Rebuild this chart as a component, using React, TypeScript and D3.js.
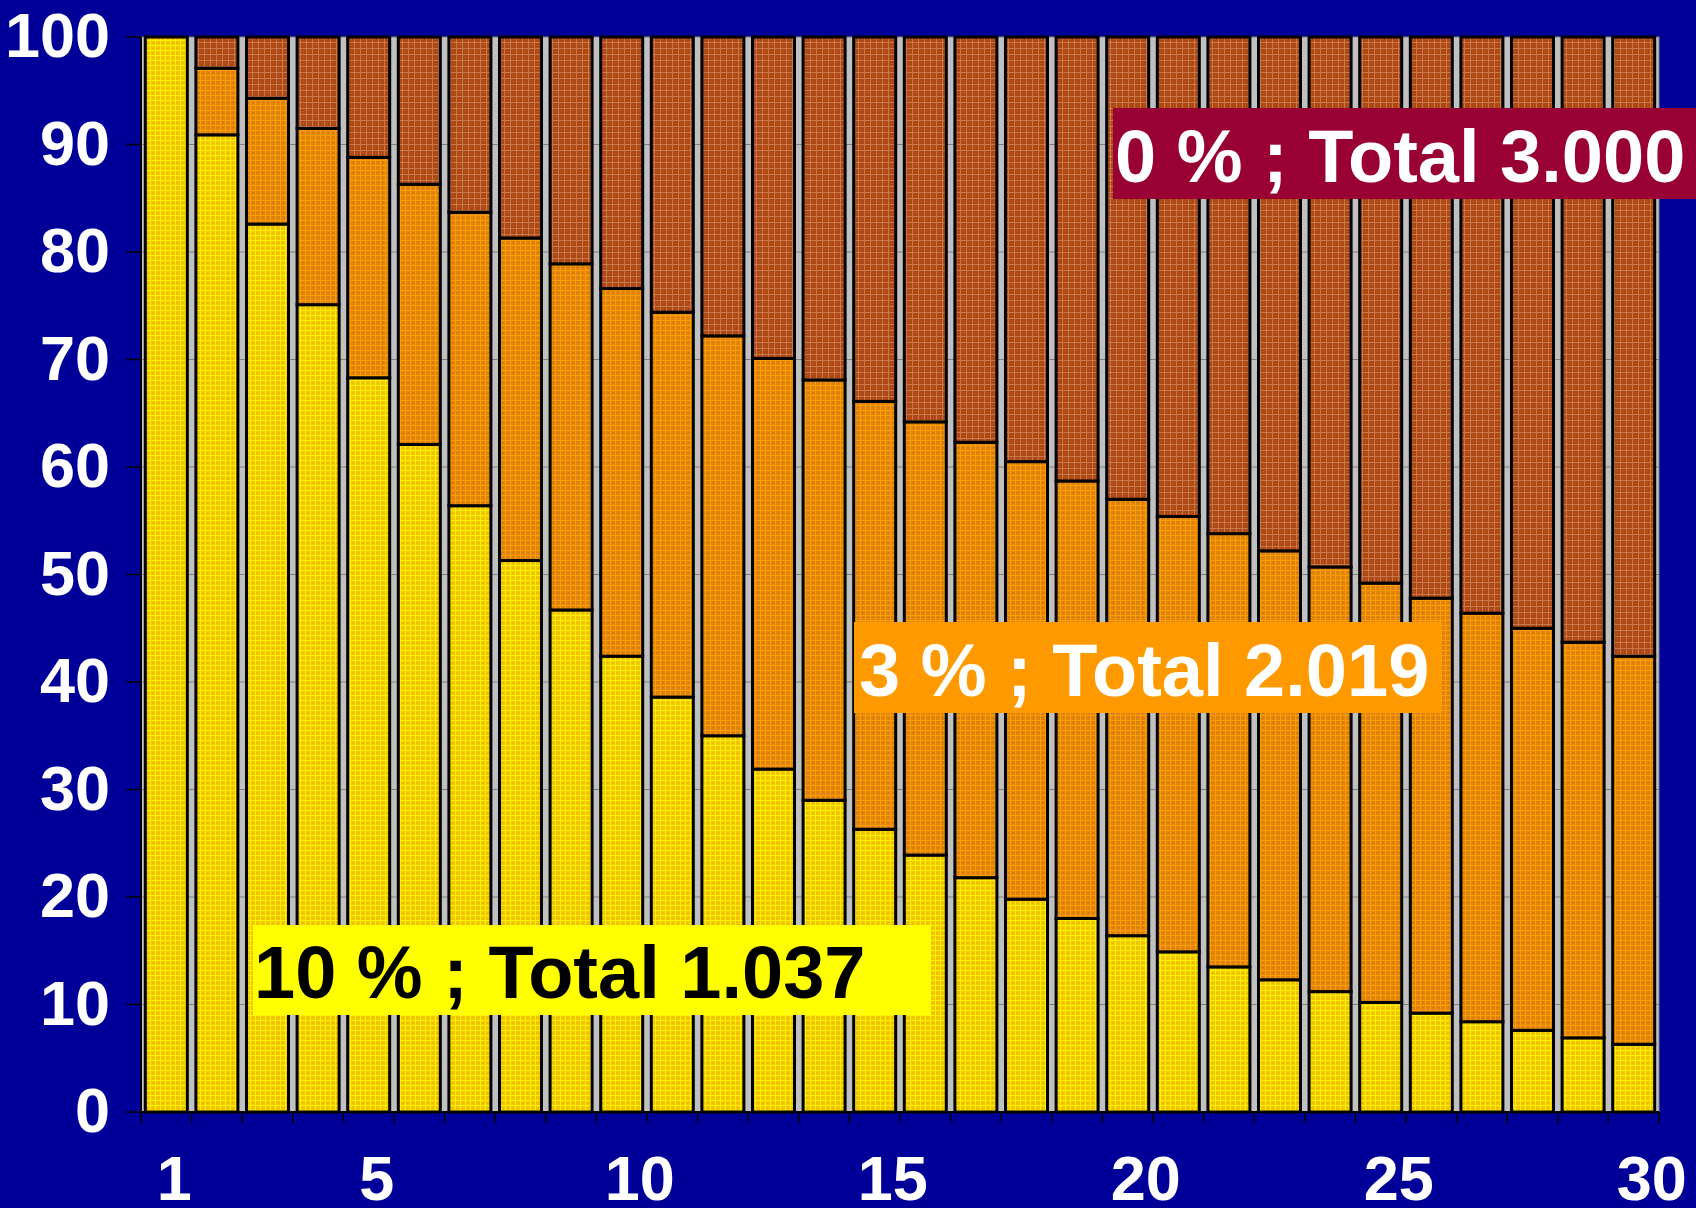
import React from "react";
import * as d3 from "d3";

// Years 1..30
const years: number[] = d3.range(1, 31);

// Cumulative top of the 10 % segment (%)
const tenPct: number[] = [
  100, 90.9, 82.6, 75.1, 68.3, 62.1, 56.4, 51.3, 46.7, 42.4,
  38.6, 35.0, 31.9, 29.0, 26.3, 23.9, 21.8, 19.8, 18.0, 16.4,
  14.9, 13.5, 12.3, 11.2, 10.2, 9.2, 8.4, 7.6, 6.9, 6.3,
];

// Cumulative top of the 3 % segment (%)
const threePct: number[] = [
  100, 97.1, 94.3, 91.5, 88.8, 86.3, 83.7, 81.3, 78.9, 76.6,
  74.4, 72.2, 70.1, 68.1, 66.1, 64.2, 62.3, 60.5, 58.7, 57.0,
  55.4, 53.8, 52.2, 50.7, 49.2, 47.8, 46.4, 45.0, 43.7, 42.4,
];

// Top of the 0 % segment
const zeroPct: number[] = years.map(() => 100);

const yTicks: number[] = [0, 10, 20, 30, 40, 50, 60, 70, 80, 90, 100];
const xTickLabels: number[] = [1, 5, 10, 15, 20, 25, 30];

const annotationTexts: string[] = [
  "0 % ; Total 3.000",
  "3 % ; Total 2.019",
  "10 % ; Total 1.037",
];

// layout / style
const W = 1696;
const H = 1208;
const plot = { left: 141, right: 1659, top: 37, bottom: 1112 };
const FONT = "'Liberation Sans', Arial, Helvetica, sans-serif";

const annotationLayout = [
  { x: 1113, y: 108, w: 583, h: 91, fill: "#990033", color: "#FFFFFF", tx: 1115, ty: 182 },
  { x: 854, y: 622, w: 588, h: 91, fill: "#FF9900", color: "#FFFFFF", tx: 859, ty: 696 },
  { x: 253, y: 925, w: 678, h: 90, fill: "#FFFF00", color: "#000000", tx: 254, ty: 998 },
];

export default function App() {
  const x = d3
    .scaleBand<number>()
    .domain(years)
    .range([plot.left, plot.right])
    .paddingInner(0.17)
    .paddingOuter(0.085);
  const y = d3.scaleLinear().domain([0, 100]).range([plot.bottom, plot.top]);
  const step = x.step();
  const boundaries = d3.range(0, years.length + 1).map((i) => plot.left + i * step);

  const segments: { key: string; y0: number; y1: number; x: number; fill: string }[] = [];
  years.forEach((yr, i) => {
    const bx = x(yr)!;
    const stack = [
      { key: "ten", y0: 0, y1: tenPct[i], fill: "url(#patYellow)" },
      { key: "three", y0: tenPct[i], y1: threePct[i], fill: "url(#patOrange)" },
      { key: "zero", y0: threePct[i], y1: zeroPct[i], fill: "url(#patBrown)" },
    ];
    stack.forEach((s) => {
      if (s.y1 - s.y0 > 0.01) segments.push({ ...s, key: `${s.key}-${yr}`, x: bx });
    });
  });

  return (
    <svg
      width={W}
      height={H}
      style={{ position: "absolute", left: 0, top: 0, display: "block" }}
      xmlns="http://www.w3.org/2000/svg"
    >
      <defs>
        <pattern id="patYellow" width="5" height="5" patternUnits="userSpaceOnUse">
          <rect width="5" height="5" fill="#F2C600" />
          <rect x="0" y="0" width="5" height="1" fill="#FFF200" />
          <rect x="0" y="0" width="1" height="5" fill="#FFF200" />
          <rect x="2" y="3" width="1" height="1" fill="#E8B800" />
        </pattern>
        <pattern id="patOrange" width="5" height="5" patternUnits="userSpaceOnUse">
          <rect width="5" height="5" fill="#E08410" />
          <rect x="0" y="0" width="5" height="1" fill="#FF9C00" />
          <rect x="0" y="0" width="1" height="5" fill="#FF9C00" />
          <rect x="3" y="2" width="1" height="1" fill="#D07810" />
        </pattern>
        <pattern id="patBrown" width="6" height="6" patternUnits="userSpaceOnUse">
          <rect width="6" height="6" fill="#AE4812" />
          <rect x="0" y="0" width="6" height="1" fill="#CA784E" />
          <rect x="0" y="0" width="1" height="6" fill="#CA784E" />
          <rect x="3" y="3" width="1" height="1" fill="#C06030" />
        </pattern>
      </defs>

      <rect x={0} y={0} width={W} height={H} fill="#000099" />

      {/* plot area */}
      <rect
        x={plot.left}
        y={plot.top}
        width={plot.right - plot.left}
        height={plot.bottom - plot.top}
        fill="#C0C0C0"
      />
      {yTicks
        .filter((t) => t > 0 && t < 100)
        .map((t) => (
          <line
            key={`g${t}`}
            x1={plot.left}
            x2={plot.right}
            y1={y(t)}
            y2={y(t)}
            stroke="#808080"
            strokeWidth={1}
          />
        ))}
      <rect
        x={plot.left}
        y={plot.top}
        width={plot.right - plot.left}
        height={plot.bottom - plot.top}
        fill="none"
        stroke="#808080"
        strokeWidth={1}
      />

      {/* bars */}
      {segments.map((s) => (
        <rect
          key={s.key}
          x={s.x}
          y={y(s.y1)}
          width={x.bandwidth()}
          height={y(s.y0) - y(s.y1)}
          fill={s.fill}
          stroke="#000000"
          strokeWidth={3}
        />
      ))}

      {/* axes */}
      <line x1={plot.left} x2={plot.left} y1={plot.top} y2={plot.bottom} stroke="#000" strokeWidth={2} />
      <line x1={plot.left} x2={plot.right} y1={plot.bottom} y2={plot.bottom} stroke="#000" strokeWidth={2} />
      {yTicks.map((t) => (
        <g key={`yt${t}`}>
          <line x1={plot.left - 15} x2={plot.left} y1={y(t)} y2={y(t)} stroke="#000" strokeWidth={1.5} />
          <text
            x={110}
            y={y(t) + 20}
            textAnchor="end"
            fill="#FFFFFF"
            fontFamily={FONT}
            fontWeight="bold"
            fontSize={63}
          >
            {t}
          </text>
        </g>
      ))}
      {boundaries.map((b, i) => (
        <line key={`xt${i}`} x1={b} x2={b} y1={plot.bottom} y2={plot.bottom + 11} stroke="#000" strokeWidth={1.5} />
      ))}
      {xTickLabels.map((v) => (
        <text
          key={`xl${v}`}
          x={x(v)! + x.bandwidth() / 2 + (String(v).length > 1 ? 18 : 8)}
          y={1200}
          textAnchor="middle"
          fill="#FFFFFF"
          fontFamily={FONT}
          fontWeight="bold"
          fontSize={63}
        >
          {v}
        </text>
      ))}

      {/* annotations */}
      {annotationTexts.map((t, i) => {
        const a = annotationLayout[i];
        return (
          <g key={`an${i}`}>
            <rect x={a.x} y={a.y} width={a.w} height={a.h} fill={a.fill} />
            <text
              x={a.tx}
              y={a.ty}
              fill={a.color}
              fontFamily={FONT}
              fontWeight="bold"
              fontSize={74}
            >
              {t}
            </text>
          </g>
        );
      })}
    </svg>
  );
}
